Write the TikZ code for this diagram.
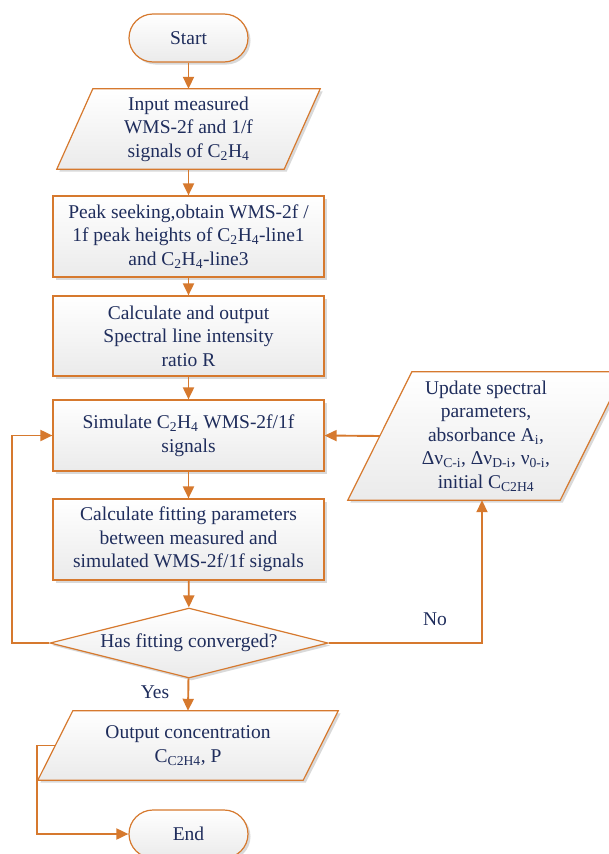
\documentclass[tikz,border=0pt]{standalone}
\usepackage{fontspec}
\setmainfont{Liberation Serif}
\usetikzlibrary{shapes.geometric,shadows,arrows.meta,backgrounds}
\definecolor{lineor}{HTML}{D6792E}
\definecolor{txtnavy}{HTML}{1F2D5C}
\tikzset{
  base/.style={font=\fontsize{19.5}{23.5}\selectfont, text=txtnavy, align=center, inner sep=0pt},
  boxfill/.style={draw=lineor, line width=1.2pt, top color=white, bottom color=black!8,
     drop shadow={shadow xshift=2.5pt, shadow yshift=-2.5pt, opacity=0.25, fill=black!60}},
  procbox/.style={base, boxfill, rectangle, minimum width=271pt},
  termbox/.style={base, boxfill, rectangle, rounded corners=24pt, minimum width=119pt, minimum height=48pt},
  parabox/.style={base, rectangle},
  decbox/.style={base, boxfill, diamond, minimum width=278pt, minimum height=70pt, aspect=4},
  conn/.style={draw=lineor, line width=1.9pt, arrows={-Triangle[length=12pt,width=11pt]}},
  lbl/.style={font=\fontsize{19.5}{23.5}\selectfont, text=txtnavy}
}
\newcommand\paradraw[2]{%
  \begin{scope}[on background layer]
  \path[boxfill] ([xshift=#2]#1.north west) -- ([xshift=#2]#1.north east) -- ([xshift=-#2]#1.south east) -- ([xshift=-#2]#1.south west) -- cycle;
  \end{scope}}
\begin{document}
\begin{tikzpicture}[x=1pt,y=-1pt]
\useasboundingbox (0,0) rectangle (609,854);
\node[termbox] (start) at (188.5,38) {Start};
\node[parabox, minimum width=227pt, minimum height=80pt] (in) at (188.5,129) {Input measured\\WMS-2f and 1/f\\signals of C\textsubscript{2}H\textsubscript{4}};
\paradraw{in}{18pt}
\node[procbox, minimum height=81pt] (peak) at (188.5,236.5) {Peak seeking,obtain WMS-2f /\\1f peak heights of C\textsubscript{2}H\textsubscript{4}-line1\\and C\textsubscript{2}H\textsubscript{4}-line3};
\node[procbox, minimum height=80pt] (calc) at (188.5,336) {Calculate and output\\Spectral line intensity\\ratio R};
\node[procbox, minimum height=71pt] (sim) at (188.5,435.5) {Simulate C\textsubscript{2}H\textsubscript{4} WMS-2f/1f\\signals};
\node[procbox, minimum height=81pt] (fit) at (188.5,539.5) {Calculate fitting parameters\\between measured and\\simulated WMS-2f/1f signals};
\node[decbox] (dec) at (189,643) {Has fitting converged?};
\node[parabox, minimum width=265pt, minimum height=69pt] (out) at (188,745.5) {Output concentration\\C\textsubscript{C2H4}, P};
\paradraw{out}{17.5pt}
\node[termbox] (end) at (188.5,834) {End};
\node[parabox, minimum width=212pt, minimum height=128pt] (upd) at (486,436) {Update spectral\\parameters,\\absorbance A\textsubscript{i},\\Δν\textsubscript{C-i}, Δν\textsubscript{D-i}, ν\textsubscript{0-i},\\initial C\textsubscript{C2H4}};
\paradraw{upd}{32pt}
\node[lbl] (yes) at (155,692) {Yes};
\node[lbl] (no) at (435,619) {No};
\draw[conn] (start) -- (in);
\draw[conn] (in.south) -- (peak);
\draw[conn] (peak) -- (calc);
\draw[conn] (calc) -- (sim);
\draw[conn] (sim) -- (fit);
\draw[conn] (fit) -- (dec);
\draw[conn] (dec) -- (out.north);
\draw[conn] (out.west) -- ++(-18,0) |- (end.west);
\draw[conn] (dec.east) -| ([xshift=-4pt]upd.south);
\draw[conn] (upd.west) -- (sim.east);
\draw[conn] (dec.west) -- ++(-37,0) |- (sim.west);
\end{tikzpicture}
\end{document}
